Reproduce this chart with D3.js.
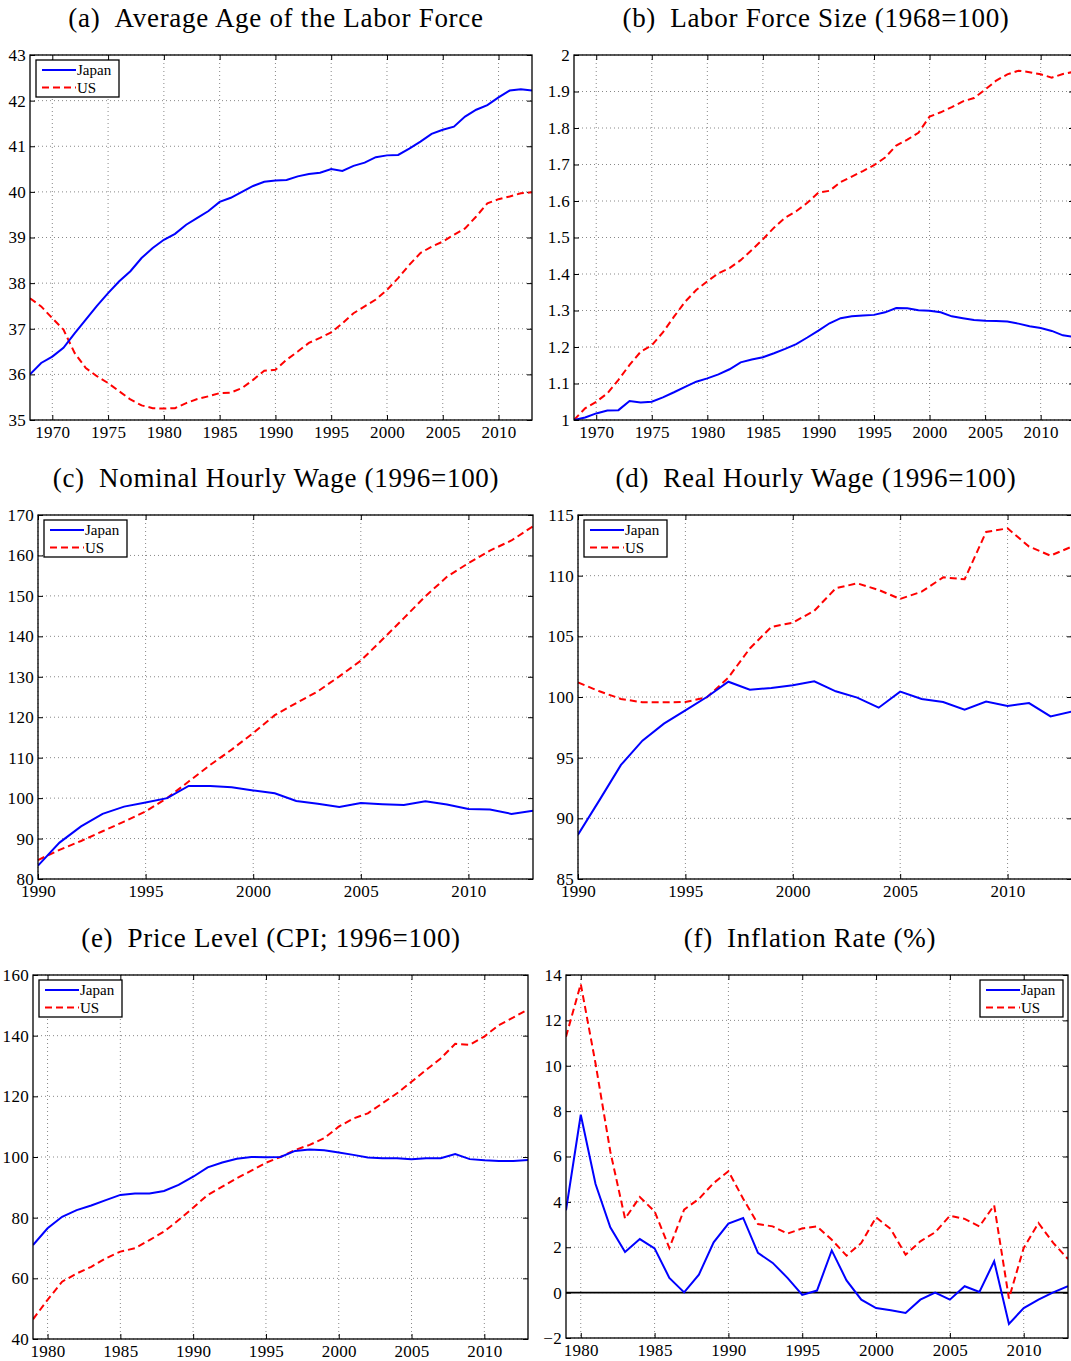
<!DOCTYPE html>
<html>
<head>
<meta charset="utf-8">
<script src="https://cdn.jsdelivr.net/npm/d3@7"></script>
<style>
  body { margin: 0; background: #fff; }
  svg { display: block; }
  text { font-family: "Liberation Serif", "Times New Roman", serif; fill: #000; }
</style>
</head>
<body>
<div id="chart"></div>
<script>
var width = 1071;
var height = 1361;

// ---- data ----
var yearsLong = d3.range(1968, 2014);   // panels a, b
var yearsWage = d3.range(1990, 2014);   // panels c, d
var yearsPrice = d3.range(1979, 2014);  // panels e, f

var ageJapan = [36.0, 36.25, 36.39, 36.58, 36.9, 37.2, 37.5, 37.78, 38.04, 38.26,
  38.55, 38.77, 38.95, 39.08, 39.28, 39.43, 39.58, 39.78, 39.87, 40.0,
  40.13, 40.22, 40.25, 40.26, 40.34, 40.39, 40.42, 40.5, 40.46, 40.57,
  40.64, 40.76, 40.8, 40.81, 40.95, 41.1, 41.27, 41.36, 41.43, 41.65,
  41.8, 41.9, 42.07, 42.22, 42.25, 42.22];
var ageUS = [37.67, 37.49, 37.23, 36.98, 36.47, 36.14, 35.96, 35.81, 35.63, 35.45,
  35.32, 35.26, 35.25, 35.26, 35.37, 35.46, 35.52, 35.59, 35.6, 35.7,
  35.88, 36.08, 36.1, 36.32, 36.5, 36.69, 36.8, 36.92, 37.12, 37.34,
  37.49, 37.64, 37.85, 38.11, 38.4, 38.66, 38.8, 38.91, 39.06, 39.2,
  39.46, 39.75, 39.84, 39.9, 39.97, 39.99];

var sizeJapan = [1.0, 1.007, 1.018, 1.026, 1.027, 1.052, 1.048, 1.05, 1.062, 1.076,
  1.091, 1.105, 1.114, 1.125, 1.139, 1.158, 1.166, 1.172, 1.183, 1.195,
  1.208, 1.226, 1.245, 1.265, 1.279, 1.284, 1.286, 1.288, 1.295, 1.307,
  1.306, 1.301, 1.299, 1.295, 1.284, 1.279, 1.274, 1.272, 1.271, 1.27,
  1.264, 1.257, 1.252, 1.244, 1.232, 1.228];
var sizeUS = [1.0, 1.032, 1.05, 1.073, 1.11, 1.151, 1.187, 1.205, 1.24, 1.283,
  1.324, 1.356, 1.38, 1.402, 1.416, 1.438, 1.466, 1.495, 1.527, 1.554,
  1.572, 1.595, 1.623, 1.628, 1.652, 1.667, 1.682, 1.698, 1.719, 1.752,
  1.768, 1.787, 1.831, 1.843, 1.857, 1.873, 1.882, 1.905, 1.93, 1.947,
  1.957, 1.953, 1.947, 1.938, 1.948, 1.954];

var wageJapan = [83.3, 89.0, 93.0, 96.1, 97.9, 98.9, 100, 103.0, 102.97, 102.7,
  101.9, 101.2, 99.3, 98.6, 97.8, 98.8, 98.5, 98.3, 99.2, 98.4,
  97.3, 97.2, 96.1, 96.9];
var wageUS = [84.7, 87.2, 89.4, 91.8, 94.2, 96.7, 100, 104.1, 108.2, 112,
  116.1, 120.5, 123.5, 126.4, 130.1, 134, 139.2, 144.5, 149.9, 154.7,
  158.1, 161.2, 163.7, 167.2];

var realJapan = [88.65, 91.5, 94.4, 96.4, 97.8, 98.9, 100, 101.26, 100.6, 100.74,
  100.96, 101.3, 100.47, 99.95, 99.12, 100.44, 99.84, 99.59, 98.96, 99.62,
  99.26, 99.5, 98.4, 98.8];
var realUS = [101.2, 100.47, 99.84, 99.56, 99.56, 99.59, 99.97, 101.6, 104.0, 105.77,
  106.13, 107.1, 108.96, 109.37, 108.82, 108.08, 108.68, 109.86, 109.7, 113.6,
  113.9, 112.4, 111.65, 112.4];

var cpiJapan = [70.99, 76.5, 80.3, 82.5, 84.0, 85.8, 87.5, 88.0, 88.0, 88.8,
  90.8, 93.5, 96.6, 98.2, 99.45, 100, 99.9, 100, 102, 102.5,
  102.2, 101.5, 100.7, 99.8, 99.6, 99.6, 99.3, 99.6, 99.6, 101.0,
  99.3, 98.9, 98.7, 98.7, 99.0];
var cpiUS = [46.5, 52.9, 58.9, 61.6, 63.8, 66.6, 68.8, 69.9, 72.6, 75.4,
  79.2, 83.3, 87.5, 90.2, 93.0, 95.5, 98.1, 100, 102.3, 104.0,
  106.2, 110, 112.7, 114.4, 117.7, 121.0, 124.8, 128.7, 132.5, 137.3,
  137, 139.7, 143.5, 146, 148.7];

var inflJapan = [3.63, 7.84, 4.79, 2.88, 1.79, 2.36, 1.95, 0.65, 0.01, 0.79,
  2.22, 3.04, 3.29, 1.75, 1.31, 0.65, -0.1, 0.09, 1.86, 0.54,
  -0.31, -0.68, -0.78, -0.9, -0.31, 0, -0.31, 0.28, 0.03, 1.38,
  -1.38, -0.68, -0.31, 0.01, 0.28];
var inflUS = [11.28, 13.6, 10.1, 6.22, 3.26, 4.21, 3.58, 1.97, 3.66, 4.13,
  4.83, 5.35, 4.14, 3.02, 2.92, 2.6, 2.83, 2.92, 2.33, 1.63,
  2.19, 3.32, 2.8, 1.67, 2.26, 2.66, 3.39, 3.25, 2.92, 3.85,
  -0.26, 1.97, 3.07, 2.19, 1.48];

var seriesNames = ['Japan', 'US'];

var svg = d3.select('#chart').append('svg')
  .attr('width', width)
  .attr('height', height);

var panels = [
  { id: 'a', title: '(a)\u2002Average Age of the Labor Force', tx: 276, ty: 27,
    x0: 30, x1: 532, y0: 55, y1: 420, xDom: [1968, 2013], yDom: [35, 43],
    xTicks: [1970, 1975, 1980, 1985, 1990, 1995, 2000, 2005, 2010], yTicks: d3.range(35, 44, 1),
    years: yearsLong, jp: ageJapan, us: ageUS, legend: 'left' },
  { id: 'b', title: '(b)\u2002Labor Force Size (1968=100)', tx: 816, ty: 27,
    x0: 574, x1: 1074, y0: 55, y1: 420, xDom: [1968, 2013], yDom: [1, 2],
    xTicks: [1970, 1975, 1980, 1985, 1990, 1995, 2000, 2005, 2010], yTicks: d3.range(0, 11).map(function(i){ return 1 + i / 10; }),
    years: yearsLong, jp: sizeJapan, us: sizeUS, legend: null },
  { id: 'c', title: '(c)\u2002Nominal Hourly Wage (1996=100)', tx: 276, ty: 487,
    x0: 38, x1: 533, y0: 515, y1: 879, xDom: [1990, 2013], yDom: [80, 170],
    xTicks: [1990, 1995, 2000, 2005, 2010], yTicks: d3.range(80, 171, 10),
    years: yearsWage, jp: wageJapan, us: wageUS, legend: 'left' },
  { id: 'd', title: '(d)\u2002Real Hourly Wage (1996=100)', tx: 816, ty: 487,
    x0: 578, x1: 1072, y0: 515, y1: 879, xDom: [1990, 2013], yDom: [85, 115],
    xTicks: [1990, 1995, 2000, 2005, 2010], yTicks: d3.range(85, 116, 5),
    years: yearsWage, jp: realJapan, us: realUS, legend: 'left' },
  { id: 'e', title: '(e)\u2002Price Level (CPI; 1996=100)', tx: 271, ty: 947,
    x0: 33, x1: 528, y0: 975, y1: 1339, xDom: [1979, 2013], yDom: [40, 160],
    xTicks: [1980, 1985, 1990, 1995, 2000, 2005, 2010], yTicks: d3.range(40, 161, 20),
    years: yearsPrice, jp: cpiJapan, us: cpiUS, legend: 'left' },
  { id: 'f', title: '(f)\u2002Inflation Rate (%)', tx: 810, ty: 947,
    x0: 566, x1: 1068, y0: 975, y1: 1338, xDom: [1979, 2013], yDom: [-2, 14],
    xTicks: [1980, 1985, 1990, 1995, 2000, 2005, 2010], yTicks: d3.range(-2, 15, 2),
    years: yearsPrice, jp: inflJapan, us: inflUS, legend: 'right', zero: true }
];

var fmt = d3.format('~g');

panels.forEach(function(p) {
  var x = d3.scaleLinear().domain(p.xDom).range([p.x0, p.x1]);
  var y = d3.scaleLinear().domain(p.yDom).range([p.y1, p.y0]);
  var g = svg.append('g').attr('class', 'panel-' + p.id);

  g.append('text')
    .attr('x', p.tx).attr('y', p.ty)
    .attr('text-anchor', 'middle')
    .style('font-size', '27px')
    .style('letter-spacing', '0.7px')
    .text(p.title);

  g.append('clipPath').attr('id', 'clip-' + p.id)
    .append('rect')
    .attr('x', p.x0).attr('y', p.y0)
    .attr('width', p.x1 - p.x0).attr('height', p.y1 - p.y0);

  // dotted grid
  g.selectAll('.gx').data(p.xTicks).enter().append('line')
    .attr('x1', function(d){ return x(d); }).attr('x2', function(d){ return x(d); })
    .attr('y1', p.y0).attr('y2', p.y1)
    .attr('stroke', '#888').attr('stroke-width', 1).attr('stroke-dasharray', '1,3');
  g.selectAll('.gy').data(p.yTicks).enter().append('line')
    .attr('x1', p.x0).attr('x2', p.x1)
    .attr('y1', function(d){ return y(d); }).attr('y2', function(d){ return y(d); })
    .attr('stroke', '#888').attr('stroke-width', 1).attr('stroke-dasharray', '1,3');

  // axes: ticks inward, labels outside
  var xb = d3.axisBottom(x).tickValues(p.xTicks).tickSize(-5).tickPadding(6).tickFormat(d3.format('d'));
  var xt = d3.axisTop(x).tickValues(p.xTicks).tickSize(-5).tickFormat('');
  var yl = d3.axisLeft(y).tickValues(p.yTicks).tickSize(-5).tickPadding(4).tickFormat(fmt);
  var yr = d3.axisRight(y).tickValues(p.yTicks).tickSize(-5).tickFormat('');

  [[xb, 'translate(0,' + p.y1 + ')'], [xt, 'translate(0,' + p.y0 + ')'],
   [yl, 'translate(' + p.x0 + ',0)'], [yr, 'translate(' + p.x1 + ',0)']].forEach(function(a) {
    var ax = g.append('g').attr('transform', a[1]).call(a[0]);
    ax.select('.domain').remove();
    ax.selectAll('line').attr('stroke', '#000');
    ax.selectAll('text').style('font-size', '17px').style('letter-spacing', '0.3px')
      .style('font-family', '"Liberation Serif", serif');
  });

  if (p.zero) {
    g.append('line')
      .attr('x1', p.x0).attr('x2', p.x1)
      .attr('y1', y(0)).attr('y2', y(0))
      .attr('stroke', '#000').attr('stroke-width', 1.8);
  }

  var line = d3.line()
    .x(function(d, i){ return x(p.years[i]); })
    .y(function(d){ return y(d); });

  g.append('path').datum(p.us)
    .attr('clip-path', 'url(#clip-' + p.id + ')')
    .attr('fill', 'none').attr('stroke', '#ff0000').attr('stroke-width', 2)
    .attr('stroke-dasharray', '7,4')
    .attr('d', line);
  g.append('path').datum(p.jp)
    .attr('clip-path', 'url(#clip-' + p.id + ')')
    .attr('fill', 'none').attr('stroke', '#0000ff').attr('stroke-width', 2)
    .attr('d', line);

  // frame
  g.append('rect')
    .attr('x', p.x0).attr('y', p.y0)
    .attr('width', p.x1 - p.x0).attr('height', p.y1 - p.y0)
    .attr('fill', 'none').attr('stroke', '#000').attr('stroke-width', 1.3);

  if (p.legend) {
    var lw = 83, lh = 37;
    var lx = p.legend === 'left' ? p.x0 + 6 : p.x1 - 5 - lw;
    var ly = p.y0 + 5;
    var lg = g.append('g').attr('transform', 'translate(' + lx + ',' + ly + ')');
    lg.append('rect').attr('width', lw).attr('height', lh)
      .attr('fill', '#fff').attr('stroke', '#000').attr('stroke-width', 1.3);
    seriesNames.forEach(function(name, i) {
      var yy = 10 + i * 17.5;
      lg.append('line')
        .attr('x1', 6).attr('x2', 40).attr('y1', yy).attr('y2', yy)
        .attr('stroke', i === 0 ? '#0000ff' : '#ff0000').attr('stroke-width', 2)
        .attr('stroke-dasharray', i === 0 ? null : '7,4');
      lg.append('text')
        .attr('x', 41).attr('y', yy + 5)
        .style('font-size', '15px')
        .text(name);
    });
  }
});
</script>
</body>
</html>
